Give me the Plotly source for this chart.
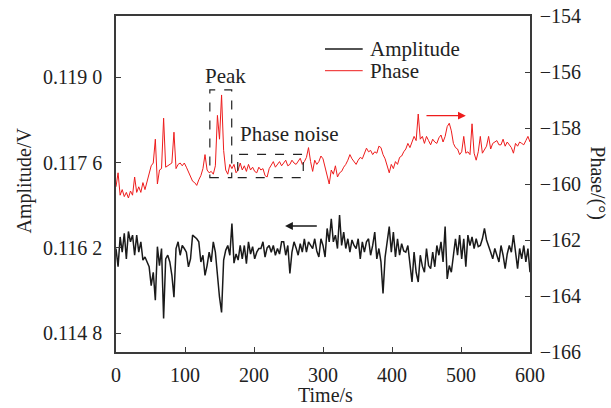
import plotly.graph_objects as go

# ---------------- data ----------------
# sampled every 3 s from 0 s to 600 s
phase = [
    -160.10, -159.60, -160.40, -160.20, -160.45, -160.30, -160.50, -160.25, -160.40, -159.75,
    -160.30, -160.10, -160.30, -159.95, -160.20, -159.90, -159.60, -159.35, -159.25, -158.40,
    -160.00, -159.50, -159.45, -157.65, -159.40, -159.35, -159.30, -159.25, -158.15, -159.45,
    -159.30, -159.25, -159.35, -159.25, -159.40, -159.55, -159.70, -159.90, -159.95, -160.05,
    -159.85, -159.70, -159.45, -158.95, -159.50, -159.60, -159.55, -159.65, -159.35, -157.55,
    -158.40, -156.82, -158.80, -159.50, -159.65, -159.30, -159.45, -159.30, -159.60, -159.50,
    -159.25, -159.50, -159.35, -159.55, -159.30, -159.50, -159.40, -159.55, -159.60, -159.40,
    -159.50, -159.45, -159.70, -159.75, -159.45, -159.30, -159.20, -159.40, -159.30, -159.20,
    -159.35, -159.25, -159.15, -159.35, -159.30, -159.15, -159.25, -159.30, -159.20, -159.08,
    -159.30, -159.20, -159.05, -158.70, -159.20, -159.55, -159.15, -159.30, -159.20, -159.00,
    -159.10, -159.40, -159.70, -160.00, -159.50, -159.65, -159.35, -159.75, -159.60, -159.55,
    -159.40, -159.30, -159.15, -158.95, -159.10, -159.20, -159.30, -159.15, -159.05, -159.10,
    -158.90, -158.72, -158.85, -158.80, -158.95, -158.85, -158.90, -158.65, -158.70, -158.95,
    -159.10, -159.35, -159.60, -159.30, -159.45, -159.20, -159.30, -159.05, -159.00, -158.85,
    -158.75, -158.55, -158.70, -158.50, -158.30, -158.45, -157.50, -158.40, -158.30, -158.55,
    -158.30, -158.45, -158.60, -158.40, -158.50, -158.55, -158.35, -158.25, -158.50, -158.30,
    -157.95, -157.83, -158.10, -158.55, -158.70, -158.75, -158.95, -158.85, -158.30, -158.90,
    -158.85, -158.95, -157.85, -158.90, -159.15, -158.85, -158.30, -158.90, -158.75, -158.65,
    -158.30, -158.75, -158.55, -158.50, -158.45, -158.60, -158.60, -158.40, -158.65, -158.50,
    -158.60, -158.70, -158.90, -158.55, -158.65, -158.50, -158.55, -158.60, -158.45, -158.30,
    -158.50,
]

amplitude = [
    0.11619, 0.11589, 0.11638, 0.11613, 0.11644, 0.11602, 0.11647, 0.11630, 0.11641, 0.11608,
    0.11641, 0.11613, 0.11630, 0.11600, 0.11605, 0.11597, 0.11589, 0.11558, 0.11580, 0.11534,
    0.11622, 0.11591, 0.11619, 0.11504, 0.11602, 0.11608, 0.11597, 0.11575, 0.11539, 0.11619,
    0.11630, 0.11608, 0.11624, 0.11619, 0.11613, 0.11589, 0.11602, 0.11641, 0.11638, 0.11635,
    0.11630, 0.11597, 0.11608, 0.11575, 0.11591, 0.11613, 0.11597, 0.11630, 0.11613, 0.11570,
    0.11539, 0.11514, 0.11600, 0.11616, 0.11624, 0.11608, 0.11660, 0.11595, 0.11610, 0.11600,
    0.11624, 0.11602, 0.11624, 0.11594, 0.11630, 0.11610, 0.11622, 0.11602, 0.11613, 0.11619,
    0.11619, 0.11630, 0.11605, 0.11620, 0.11624, 0.11613, 0.11624, 0.11608, 0.11619, 0.11610,
    0.11630, 0.11630, 0.11608, 0.11624, 0.11578, 0.11613, 0.11630, 0.11620, 0.11608, 0.11627,
    0.11613, 0.11635, 0.11613, 0.11630, 0.11624, 0.11619, 0.11635, 0.11615, 0.11605, 0.11635,
    0.11624, 0.11605, 0.11652, 0.11630, 0.11668, 0.11630, 0.11641, 0.11619, 0.11674, 0.11624,
    0.11646, 0.11619, 0.11635, 0.11613, 0.11633, 0.11624, 0.11619, 0.11635, 0.11602, 0.11630,
    0.11613, 0.11630, 0.11635, 0.11608, 0.11624, 0.11646, 0.11602, 0.11619, 0.11597, 0.11545,
    0.11605, 0.11635, 0.11655, 0.11613, 0.11646, 0.11605, 0.11635, 0.11608, 0.11627, 0.11615,
    0.11613, 0.11624, 0.11597, 0.11564, 0.11613, 0.11580, 0.11564, 0.11608, 0.11590, 0.11580,
    0.11619, 0.11591, 0.11586, 0.11613, 0.11589, 0.11624, 0.11608, 0.11630, 0.11597, 0.11655,
    0.11569, 0.11591, 0.11580, 0.11613, 0.11635, 0.11608, 0.11641, 0.11602, 0.11635, 0.11589,
    0.11641, 0.11624, 0.11638, 0.11619, 0.11635, 0.11622, 0.11624, 0.11635, 0.11652, 0.11633,
    0.11624, 0.11613, 0.11602, 0.11619, 0.11608, 0.11597, 0.11624, 0.11608, 0.11586, 0.11610,
    0.11624, 0.11613, 0.11641, 0.11608, 0.11586, 0.11619, 0.11602, 0.11624, 0.11597, 0.11619,
    0.11580,
]

time_phase = [3 * i for i in range(len(phase))]
time_amp = [3 * i for i in range(len(amplitude))]

x_ticks = [0, 100, 200, 300, 400, 500, 600]
amp_ticks = [0.1148, 0.1162, 0.1176, 0.1190]
amp_tick_text = ["0.114 8", "0.116 2", "0.117 6", "0.119 0"]
phase_ticks = [-166, -164, -162, -160, -158, -156, -154]
phase_tick_text = ["\u2212166", "\u2212164", "\u2212162", "\u2212160", "\u2212158", "\u2212156", "\u2212154"]

# ---------------- figure ----------------
FONT = "Liberation Serif, Times New Roman, serif"
AX = "#3a3a3a"
RED = "#ee1c1c"
BLK = "#1a1a1a"

fig = go.Figure()
fig.add_trace(go.Scatter(x=time_amp, y=amplitude, mode="lines", name="Amplitude",
                         line=dict(color=BLK, width=1.5), yaxis="y"))
fig.add_trace(go.Scatter(x=time_phase, y=phase, mode="lines", name="Phase",
                         line=dict(color=RED, width=1.0), yaxis="y2"))

common = dict(showgrid=False, zeroline=False, showline=True, linecolor=AX, linewidth=1.5,
              ticks="inside", ticklen=5, tickwidth=1.2, tickcolor=AX, automargin=False,
              tickfont=dict(family=FONT, size=20, color="#222"))

fig.update_layout(
    width=611, height=408,
    margin=dict(l=116, r=81, t=16, b=56, autoexpand=False),
    paper_bgcolor="white", plot_bgcolor="white",
    showlegend=False,
    font=dict(family=FONT, size=20, color="#222"),
    xaxis=dict(range=[0, 600], tickvals=x_ticks, mirror=True, ticklabelstandoff=4, **common),
    yaxis=dict(range=[0.11449, 0.12001], tickvals=amp_ticks, ticktext=amp_tick_text,
               ticklabelstandoff=8, **common),
    yaxis2=dict(range=[-166, -154], tickvals=phase_ticks, ticktext=phase_tick_text,
                overlaying="y", side="right", ticklabelstandoff=4, **common),
)

TXT = dict(family=FONT, size=20, color="#222")

# axis titles
fig.add_annotation(text="Time/s", xref="paper", yref="paper", x=0.506, y=-0.128,
                   xanchor="center", yanchor="middle", showarrow=False, font=TXT)
fig.add_annotation(text="Amplitude/V", xref="paper", yref="paper", x=-0.22, y=0.51,
                   xanchor="center", yanchor="middle", textangle=-90, showarrow=False, font=TXT)
fig.add_annotation(text="Phase/(°)", xref="paper", yref="paper", x=1.161, y=0.503,
                   xanchor="center", yanchor="middle", textangle=90, showarrow=False, font=TXT)

# legend drawn by hand
for yv, col, lab in [(0.9018, BLK, "Amplitude"), (0.8372, RED, "Phase")]:
    fig.add_shape(type="line", xref="paper", yref="paper", x0=0.5048, x1=0.5959, y0=yv, y1=yv,
                  line=dict(color=col, width=1.5 if col == BLK else 1.0))
    fig.add_annotation(text=lab, xref="paper", yref="paper", x=0.6087, y=yv, xanchor="left",
                       yanchor="middle", showarrow=False, font=dict(family=FONT, size=21, color="#222"))

# dashed boxes and labels
fig.add_shape(type="rect", xref="x", yref="y2", x0=136, x1=167.7, y0=-159.77, y1=-156.64,
              line=dict(color="#222", width=1.2, dash="dash"))
fig.add_shape(type="rect", xref="x", yref="y2", x0=176.4, x1=271.4, y0=-159.77, y1=-158.94,
              line=dict(color="#222", width=1.2, dash="dash"))
fig.add_annotation(text="Peak", xref="x", yref="y2", x=159, y=-156.14, showarrow=False,
                   xanchor="center", yanchor="middle", font=dict(family=FONT, size=21, color="#222"))
fig.add_annotation(text="Phase noise", xref="x", yref="y2", x=176.4, y=-158.23, xanchor="left",
                   yanchor="middle", showarrow=False, font=dict(family=FONT, size=21, color="#222"))

# arrows indicating which axis each curve belongs to
fig.add_annotation(x=507, y=-157.56, ax=447.8, ay=-157.56, xref="x", yref="y2", axref="x", ayref="y2",
                   text="", showarrow=True, arrowhead=2, arrowsize=1.2, arrowwidth=1.3, arrowcolor=RED)
fig.add_annotation(x=245, y=0.11656, ax=293.2, ay=0.11656, xref="x", yref="y", axref="x", ayref="y",
                   text="", showarrow=True, arrowhead=2, arrowsize=1.2, arrowwidth=1.3, arrowcolor=BLK)

fig.write_html("out.html", config={"displayModeBar": False},
               post_script="document.body.style.margin='0px';document.body.style.padding='0px';")
